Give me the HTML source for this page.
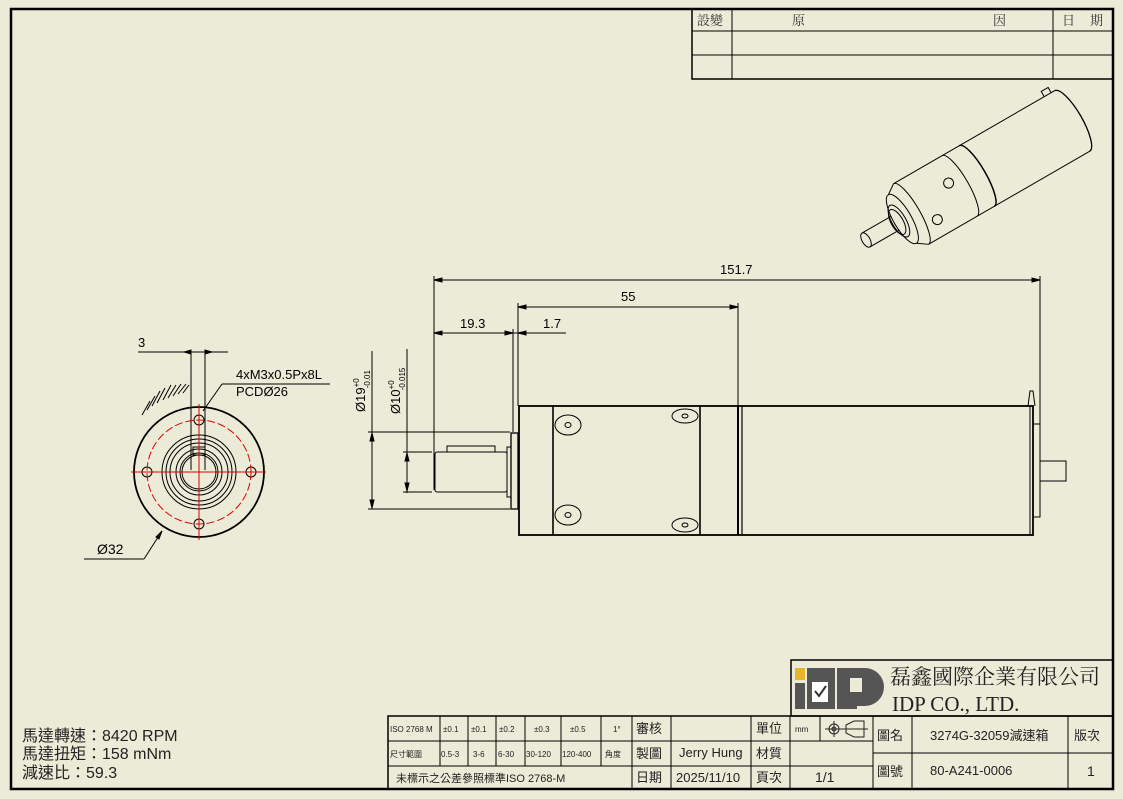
<!DOCTYPE html>
<html><head><meta charset="utf-8"><style>
html,body{margin:0;padding:0;background:#ECEBD8;}
svg{display:block;}
text{font-family:"Liberation Sans","Noto Sans CJK TC",sans-serif;}
.s{font-family:"Liberation Serif","Noto Serif CJK SC",serif;}
</style></head><body>
<svg width="1123" height="799" viewBox="0 0 1123 799" xmlns="http://www.w3.org/2000/svg">
<rect x="0" y="0" width="1123" height="799" fill="#ECEBD8"/>
<rect x="11" y="9" width="1102" height="780" fill="none" stroke="#000" stroke-width="2.5"/>

<!-- revision table -->
<g stroke="#000" fill="none">
<rect x="692" y="9" width="421" height="70" stroke-width="1.5"/>
<line x1="692" y1="31" x2="1113" y2="31"/><line x1="692" y1="55" x2="1113" y2="55"/>
<line x1="732" y1="9" x2="732" y2="79"/><line x1="1053" y1="9" x2="1053" y2="79"/>
</g>
<g font-size="13" fill="#333" class="s">
<text x="697" y="25" class="s">設變</text><text x="792" y="25" class="s">原</text><text x="993" y="25" class="s">因</text><text x="1062" y="25" class="s">日</text><text x="1090" y="25" class="s">期</text>
</g>

<!-- front view -->
<g fill="none" stroke="#000" stroke-width="1">
<line x1="138" y1="352" x2="228" y2="352"/>
<line x1="191" y1="350" x2="191" y2="470"/><line x1="205" y1="350" x2="205" y2="470"/>
<path d="M184 352l7-2v4z M212 352l-7-2v4z" fill="#000"/>
<text x="138" y="347" font-size="13" fill="#000" stroke="none">3</text>
<line x1="330" y1="384" x2="222" y2="384"/><line x1="222" y1="384" x2="203" y2="411"/>
<text x="236" y="379" font-size="13" fill="#000" stroke="none">4xM3x0.5Px8L</text>
<text x="236" y="396" font-size="13" fill="#000" stroke="none">PCDØ26</text>
<circle cx="199" cy="472" r="65" stroke-width="1.8"/>
<circle cx="199" cy="472" r="37"/><circle cx="199" cy="472" r="33"/><circle cx="199" cy="472" r="29"/>
<circle cx="199" cy="472" r="23"/><circle cx="199" cy="472" r="19"/><circle cx="199" cy="472" r="17"/>
<rect x="193" y="447" width="12" height="8"/>
<circle cx="199" cy="420" r="5"/><circle cx="147" cy="472" r="5"/><circle cx="251" cy="472" r="5"/><circle cx="199" cy="524" r="5"/>
<circle cx="199" cy="472" r="52" stroke="#d00" stroke-dasharray="8,3"/>
<line x1="131" y1="472" x2="266" y2="472" stroke="#d00"/><line x1="199" y1="404" x2="199" y2="540" stroke="#d00"/>
<path d="M142 415 l8-14 M147 410 l8-14 M152 406 l8-15 M157 403 l8-15 M163 400 l8-15 M168 398 l8-13 M173 396 l8-12 M178 394 l8-10 M183 393 l6-8"/>
<line x1="84" y1="559" x2="144" y2="559"/><line x1="144" y1="559" x2="162" y2="531"/>
<path d="M162 531l-6 6 3 2z" fill="#000"/>
<text x="97" y="554" font-size="14" fill="#000" stroke="none">Ø32</text>
</g>

<!-- side view -->
<g fill="none" stroke="#000" stroke-width="1">
<line x1="434" y1="280" x2="1040" y2="280"/><line x1="434" y1="276" x2="434" y2="490"/><line x1="1040" y1="276" x2="1040" y2="425"/>
<path d="M434 280l8-2v4z M1040 280l-8-2v4z" fill="#000"/>
<text x="720" y="274" font-size="13" fill="#000" stroke="none">151.7</text>
<line x1="518" y1="307" x2="738" y2="307"/><line x1="518" y1="303" x2="518" y2="406"/><line x1="738" y1="303" x2="738" y2="406"/>
<path d="M518 307l8-2v4z M738 307l-8-2v4z" fill="#000"/>
<text x="621" y="301" font-size="13" fill="#000" stroke="none">55</text>
<line x1="434" y1="333" x2="566" y2="333"/><line x1="513" y1="329" x2="513" y2="432"/>
<path d="M434 333l8-2v4z M513 333l-8-2v4z M518 333l8-2v4z" fill="#000"/>
<text x="460" y="328" font-size="13" fill="#000" stroke="none">19.3</text>
<text x="543" y="328" font-size="13" fill="#000" stroke="none">1.7</text>
<line x1="372" y1="351" x2="372" y2="509"/><line x1="368" y1="432" x2="510" y2="432"/><line x1="368" y1="509" x2="510" y2="509"/>
<path d="M372 433l-2 8h4z M372 508l-2-8h4z" fill="#000"/>
<line x1="407" y1="349" x2="407" y2="493"/><line x1="403" y1="452" x2="432" y2="452"/><line x1="403" y1="492" x2="432" y2="492"/>
<path d="M407 453l-2 8h4z M407 491l-2-8h4z" fill="#000"/>
<text transform="translate(365,412) rotate(-90)" font-size="13" fill="#000" stroke="none">Ø19<tspan font-size="8" dy="-6">+0</tspan><tspan font-size="8" dx="-10" dy="11">-0.01</tspan></text>
<text transform="translate(400,414) rotate(-90)" font-size="13" fill="#000" stroke="none">Ø10<tspan font-size="8" dy="-6">+0</tspan><tspan font-size="8" dx="-10" dy="11">-0.015</tspan></text>
<rect x="435" y="452" width="72" height="40" rx="2"/>
<rect x="447" y="446" width="48" height="6"/>
<rect x="507" y="447" width="4" height="50"/>
<rect x="511" y="433" width="7" height="76" stroke-width="1.3"/>
<rect x="519" y="406" width="514" height="129" stroke-width="1.8"/>
<line x1="553" y1="406" x2="553" y2="535" stroke-width="1.6"/>
<line x1="700" y1="406" x2="700" y2="535" stroke-width="1.6"/>
<line x1="738" y1="406" x2="738" y2="535" stroke-width="2"/>
<line x1="742" y1="406" x2="742" y2="535" stroke-width="1.2"/>
<ellipse cx="568" cy="425" rx="13" ry="10"/><ellipse cx="568" cy="425" rx="3" ry="2.5"/>
<ellipse cx="568" cy="515" rx="13" ry="10"/><ellipse cx="568" cy="515" rx="3" ry="2.5"/>
<ellipse cx="685" cy="416" rx="13" ry="7"/><ellipse cx="685" cy="416" rx="3" ry="2"/>
<ellipse cx="685" cy="525" rx="13" ry="7"/><ellipse cx="685" cy="525" rx="3" ry="2"/>
<line x1="1030" y1="406" x2="1030" y2="535"/>
<rect x="1033" y="424" width="7" height="93"/>
<rect x="1040" y="461" width="26" height="20"/>
<path d="M1028 406 l2-15 h3 l2 15"/>
</g>

<!-- iso view -->
<g fill="none" stroke="#000" stroke-width="1" transform="translate(866,240) rotate(-30)">
<ellipse cx="0" cy="0" rx="4" ry="8"/>
<line x1="0" y1="-8" x2="34" y2="-8"/><line x1="0" y1="8" x2="34" y2="8"/>
<ellipse cx="36" cy="0" rx="6" ry="14"/><ellipse cx="38" cy="0" rx="7" ry="18"/>
<ellipse cx="42" cy="0" rx="9" ry="28"/>
<line x1="42" y1="-28" x2="52" y2="-35"/><line x1="42" y1="28" x2="52" y2="35"/>
<path d="M52 -35 A9 35 0 0 1 52 35"/>
<line x1="52" y1="-35" x2="238" y2="-35"/><line x1="52" y1="35" x2="238" y2="35"/>
<path d="M108 -35 A9 35 0 0 1 108 35"/><path d="M128 -35 A9 35 0 0 1 128 35" stroke-width="1.5"/>
<path d="M238 -35 A10 35 0 0 1 238 35" stroke-width="1.3"/>
<circle cx="72" cy="18" r="5"/><circle cx="100" cy="-8" r="5"/>
<path d="M226 -35 l0-6 h8 l0 6"/>
</g>

<!-- notes -->
<g font-size="16" fill="#222">
<text x="22" y="741">馬達轉速：8420 RPM</text>
<text x="22" y="759">馬達扭矩：158 mNm</text>
<text x="22" y="778">減速比：59.3</text>
</g>

<!-- title block -->
<g stroke="#000" fill="none" stroke-width="1">
<rect x="791" y="660" width="322" height="56" stroke-width="1.5"/>
<rect x="388" y="716" width="725" height="73" stroke-width="1.5"/>
<line x1="388" y1="741" x2="873" y2="741"/><line x1="388" y1="766" x2="873" y2="766"/>
<line x1="873" y1="753" x2="1113" y2="753"/>
<line x1="440" y1="716" x2="440" y2="766"/><line x1="468" y1="716" x2="468" y2="766"/><line x1="496" y1="716" x2="496" y2="766"/>
<line x1="525" y1="716" x2="525" y2="766"/><line x1="561" y1="716" x2="561" y2="766"/><line x1="601" y1="716" x2="601" y2="766"/>
<line x1="632" y1="716" x2="632" y2="789"/><line x1="671" y1="716" x2="671" y2="789"/><line x1="751" y1="716" x2="751" y2="789"/>
<line x1="790" y1="716" x2="790" y2="789"/><line x1="820" y1="716" x2="820" y2="741"/>
<line x1="873" y1="716" x2="873" y2="789"/><line x1="912" y1="716" x2="912" y2="789"/><line x1="1068" y1="716" x2="1068" y2="789"/>
</g>
<rect x="795" y="668" width="10" height="12" fill="#e8b52a"/>
<rect x="795" y="683" width="10" height="26" fill="#555"/>
<rect x="807" y="668" width="28" height="41" fill="#555"/>
<rect x="812" y="682" width="16" height="20" fill="#fff"/>
<path d="M815 691l4 5 7-10" stroke="#333" stroke-width="2" fill="none"/>
<path d="M837 668h28a19 19 0 0 1 0 38h-8v3h-20z" fill="#555"/>
<rect x="850" y="678" width="12" height="14" fill="#ECEBD8"/>
<text x="890" y="684" font-size="21" class="s" fill="#222">磊鑫國際企業有限公司</text>
<text x="892" y="711" font-size="21" class="s" fill="#222">IDP CO., LTD.</text>

<g font-size="8" class="s" fill="#222">
<text x="390" y="732">ISO 2768 M</text><text x="390" y="757">尺寸範圍</text>
<text x="443" y="732">±0.1</text><text x="471" y="732">±0.1</text><text x="499" y="732">±0.2</text><text x="534" y="732">±0.3</text><text x="570" y="732">±0.5</text><text x="613" y="732">1°</text>
<text x="441" y="757">0.5-3</text><text x="473" y="757">3-6</text><text x="498" y="757">6-30</text><text x="526" y="757">30-120</text><text x="562" y="757">120-400</text><text x="605" y="757">角度</text>
<text x="795" y="732">mm</text>
</g>
<g font-size="13" class="s" fill="#222">
<text x="636" y="733">審核</text><text x="636" y="758">製圖</text><text x="636" y="782">日期</text>
<text x="756" y="733">單位</text><text x="756" y="758">材質</text><text x="756" y="782">頁次</text>
<text x="877" y="740">圖名</text><text x="877" y="776">圖號</text><text x="1074" y="740">版次</text>
<text x="396" y="782" font-size="11">未標示之公差參照標準ISO 2768-M</text>
<text x="815" y="782" font-size="14">1/1</text><text x="1087" y="776" font-size="14">1</text>
</g>
<g font-size="13" fill="#222">
<text x="679" y="757">Jerry Hung</text><text x="676" y="782">2025/11/10</text>
<text x="930" y="740">3274G-32059減速箱</text><text x="930" y="775">80-A241-0006</text>
</g>
<g stroke="#222" fill="none">
<circle cx="834" cy="729" r="5"/><circle cx="834" cy="729" r="2"/><line x1="825" y1="729" x2="868" y2="729"/><line x1="834" y1="721" x2="834" y2="737"/>
<path d="M846 725l8-4h10v16h-10l-8-4z"/>
</g>
</svg>
</body></html>
